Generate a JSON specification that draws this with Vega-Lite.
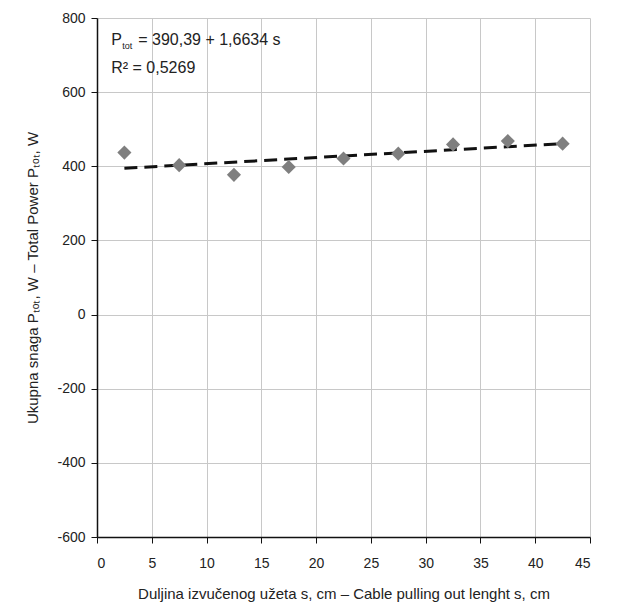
{
  "$schema": "https://vega.github.io/schema/vega-lite/v6.json",
  "width": 493,
  "height": 519,
  "autosize": {"type": "none"},
  "padding": {"left": 97, "top": 18, "right": 51, "bottom": 75},
  "background": "white",
  "config": {
    "view": {"stroke": null},
    "font": "Liberation Sans",
    "axis": {
      "labelFont": "Liberation Sans",
      "titleFont": "Liberation Sans",
      "labelFontSize": 14,
      "titleFontSize": 15,
      "labelColor": "#222",
      "titleColor": "#222",
      "titleFontWeight": "normal",
      "gridColor": "#c8c8c8",
      "gridWidth": 1,
      "domainColor": "#111",
      "domainWidth": 1.5,
      "tickColor": "#111",
      "tickSize": 6
    }
  },
  "datasets": {
    "points": [
      {"s": 2.5, "P": 437},
      {"s": 7.5, "P": 403},
      {"s": 12.5, "P": 377},
      {"s": 17.5, "P": 398},
      {"s": 22.5, "P": 421},
      {"s": 27.5, "P": 434},
      {"s": 32.5, "P": 459},
      {"s": 37.5, "P": 468},
      {"s": 42.5, "P": 461}
    ],
    "trend": [
      {"s": 2.5, "P": 394.55},
      {"s": 42.5, "P": 461.09}
    ],
    "labels": [
      {"s": 1.3, "P": 742, "t": "P", "k": "big"},
      {"s": 1.3, "P": 742, "t": "tot", "k": "sub"},
      {"s": 1.3, "P": 742, "t": "= 390,39 + 1,6634 s", "k": "rest"},
      {"s": 1.3, "P": 664, "t": "R² = 0,5269", "k": "big"}
    ]
  },
  "layer": [
    {
      "data": {"name": "trend"},
      "mark": {"type": "line", "color": "#111", "strokeWidth": 3, "strokeDash": [13, 7]},
      "encoding": {
        "x": {
          "field": "s", "type": "quantitative",
          "scale": {"domain": [0, 45], "nice": false},
          "axis": {"values": [0, 5, 10, 15, 20, 25, 30, 35, 40, 45], "labelPadding": 13, "titlePadding": 16,
                   "labelExpr": "'' + datum.value",
                   "title": "Duljina izvučenog užeta  s, cm  –  Cable pulling out lenght  s, cm"}
        },
        "y": {
          "field": "P", "type": "quantitative",
          "scale": {"domain": [-600, 800], "nice": false},
          "axis": {"values": [-600, -400, -200, 0, 200, 400, 600, 800], "labelPadding": 6, "titlePadding": 16,
                   "labelExpr": "'' + datum.value",
                   "title": "Ukupna snaga  Pₜₒₜ, W  –  Total Power  Pₜₒₜ, W"}
        }
      }
    },
    {
      "data": {"name": "points"},
      "mark": {"type": "point", "shape": "diamond", "filled": true, "color": "#7f7f7f", "opacity": 1, "size": 200},
      "encoding": {
        "x": {"field": "s", "type": "quantitative"},
        "y": {"field": "P", "type": "quantitative"}
      }
    },
    {
      "data": {"name": "labels"},
      "transform": [{"filter": "datum.k == 'big'"}],
      "mark": {"type": "text", "align": "left", "baseline": "middle", "fontSize": 16, "font": "Liberation Sans", "color": "#222"},
      "encoding": {
        "x": {"field": "s", "type": "quantitative"},
        "y": {"field": "P", "type": "quantitative"},
        "text": {"field": "t"}
      }
    },
    {
      "data": {"name": "labels"},
      "transform": [{"filter": "datum.k == 'sub'"}],
      "mark": {"type": "text", "align": "left", "baseline": "middle", "fontSize": 9, "dx": 11, "dy": 6, "font": "Liberation Sans", "color": "#222"},
      "encoding": {
        "x": {"field": "s", "type": "quantitative"},
        "y": {"field": "P", "type": "quantitative"},
        "text": {"field": "t"}
      }
    },
    {
      "data": {"name": "labels"},
      "transform": [{"filter": "datum.k == 'rest'"}],
      "mark": {"type": "text", "align": "left", "baseline": "middle", "fontSize": 16, "dx": 27, "font": "Liberation Sans", "color": "#222"},
      "encoding": {
        "x": {"field": "s", "type": "quantitative"},
        "y": {"field": "P", "type": "quantitative"},
        "text": {"field": "t"}
      }
    }
  ]
}
